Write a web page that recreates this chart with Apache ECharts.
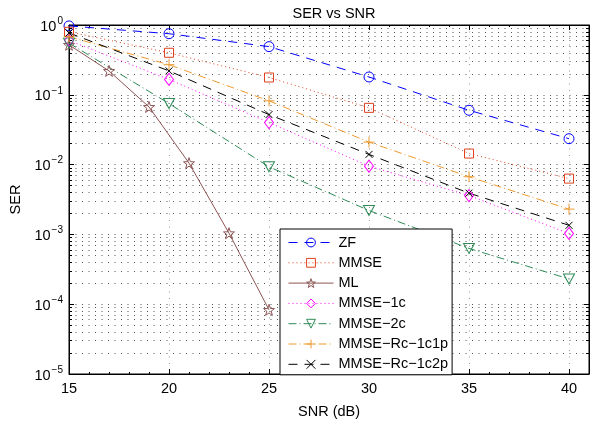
<!DOCTYPE html>
<html>
<head>
<meta charset="utf-8">
<script src="https://cdn.jsdelivr.net/npm/echarts@6/dist/echarts.min.js"></script>
<style>
  html, body { margin: 0; padding: 0; background: #fff; }
  #serChart { width: 601px; height: 424px; }
</style>
</head>
<body>
<div id="serChart"></div>
<script>
// SNR points (dB) and SER readings
var snr = [15, 20, 25, 30, 35, 40]
var mlSnr = [15, 17, 19, 21, 23, 25]
var zf = [0.97, 0.75, 0.49, 0.18, 0.06, 0.0235]
var mmse = [0.8, 0.4, 0.177, 0.065, 0.0144, 0.0063]
var ml = [0.52, 0.22, 0.067, 0.0105, 0.00104, 0.000083]
var mmse1c = [0.6, 0.166, 0.04, 0.0095, 0.0036, 0.00103]
var mmse2c = [0.55, 0.075, 0.0093, 0.0022, 0.00063, 0.00023]
var rc1c1p = [0.68, 0.27, 0.082, 0.021, 0.0067, 0.0023]
var rc1c2p = [0.77, 0.22, 0.052, 0.014, 0.0039, 0.00135]

var FONT = 'Liberation Sans, Arial, sans-serif'
var STAR = 'path://M0,-10L2.35,-3.24L9.51,-3.09L3.8,1.24L5.88,8.09L0,4L-5.88,8.09L-3.8,1.24L-9.51,-3.09L-2.35,-3.24Z'
var PLUS = 'path://M0,-5L0,5M-5,0L5,0'
var CROSS = 'path://M-5,-5L5,5M-5,5L5,-5'

function pairs(xs, ys) {
  var out = []
  for (var i = 0; i < xs.length; i++) out.push([xs[i], ys[i]])
  return out
}

function makeSeries(name, xs, ys, color, dash, symbol, size, rotate) {
  return {
    name: name,
    type: 'line',
    data: pairs(xs, ys),
    symbol: symbol,
    symbolSize: size,
    symbolRotate: rotate || 0,
    lineStyle: { color: color, width: 1, type: dash },
    itemStyle: { color: 'transparent', borderColor: color, borderWidth: 1 },
    emphasis: { disabled: true }
  }
}

function logLabel(v) {
  var e = Math.round(Math.log10(v))
  var s = e < 0 ? '\u2212' + (-e) : String(e)
  return '{b|10}{s|' + s + '}'
}

var chart = echarts.init(document.getElementById('serChart'))

var tickStyle = { inside: true, length: 5, lineStyle: { color: '#000' } }
var minorStyle = { show: true, splitNumber: 9, length: 3, lineStyle: { color: '#000' } }
var xMinor = { show: true, splitNumber: 5, length: 2, lineStyle: { color: '#000' } }

chart.setOption({
  animation: false,
  title: {
    text: 'SER vs SNR',
    left: 329,
    top: 1,
    textAlign: 'center',
    textStyle: { fontFamily: FONT, fontSize: 14.5, fontWeight: 'normal', color: '#000' }
  },
  grid: { left: 69, right: 12, top: 25, bottom: 46, show: true, borderColor: '#000', borderWidth: 1 },
  legend: {
    orient: 'vertical',
    left: 280,
    top: 229,
    padding: [6, 4, 3, 8],
    itemWidth: 45,
    itemHeight: 11,
    itemGap: 5.3,
    backgroundColor: '#fff',
    borderColor: '#000',
    borderWidth: 1,
    lineStyle: { width: 1 },
    itemStyle: { borderWidth: 1 },
    textStyle: { fontFamily: FONT, fontSize: 14.5, color: '#000' }
  },
  xAxis: [{
    type: 'value',
    min: 15,
    max: 41,
    interval: 5,
    name: 'SNR (dB)',
    nameLocation: 'middle',
    nameGap: 30,
    nameTextStyle: { fontFamily: FONT, fontSize: 14.5, color: '#000' },
    axisLine: { lineStyle: { color: '#000' } },
    axisTick: tickStyle,
    minorTick: xMinor,
    axisLabel: { fontFamily: FONT, fontSize: 14.5, color: '#000', margin: 7, showMaxLabel: false },
    splitLine: { show: true, lineStyle: { color: '#999', type: [1, 5.5] } }
  }, {
    type: 'value',
    position: 'top',
    min: 15,
    max: 41,
    interval: 5,
    axisLine: { lineStyle: { color: '#000' } },
    axisTick: tickStyle,
    minorTick: xMinor,
    axisLabel: { show: false },
    splitLine: { show: false }
  }],
  yAxis: [{
    type: 'log',
    logBase: 10,
    min: 1e-5,
    max: 1,
    splitNumber: 5,
    name: 'SER',
    nameLocation: 'middle',
    nameGap: 45,
    nameTextStyle: { fontFamily: FONT, fontSize: 14.5, color: '#000' },
    axisLine: { lineStyle: { color: '#000' } },
    axisTick: tickStyle,
    minorTick: minorStyle,
    axisLabel: {
      margin: 6,
      formatter: logLabel,
      rich: {
        b: { fontFamily: FONT, fontSize: 14.5, color: '#000', verticalAlign: 'bottom' },
        s: { fontFamily: FONT, fontSize: 10, color: '#000', verticalAlign: 'bottom', padding: [0, 0, 8, 1] }
      }
    },
    splitLine: { show: true, lineStyle: { color: '#555', type: [1, 5.5] } },
    minorSplitLine: { show: true, lineStyle: { color: '#555', type: [1, 5.5] } }
  }, {
    type: 'log',
    logBase: 10,
    min: 1e-5,
    max: 1,
    splitNumber: 5,
    position: 'right',
    axisLine: { lineStyle: { color: '#000' } },
    axisTick: tickStyle,
    minorTick: minorStyle,
    axisLabel: { show: false },
    splitLine: { show: false }
  }],
  series: [
    makeSeries('ZF', snr, zf, '#0000ff', [9, 7], 'circle', 10),
    makeSeries('MMSE', snr, mmse, '#e0401c', [1, 3], 'rect', 9),
    makeSeries('ML', mlSnr, ml, '#8c5454', 'solid', STAR, 11),
    makeSeries('MMSE\u22121c', snr, mmse1c, '#ff00ff', [1, 3], 'diamond', [9, 12]),
    makeSeries('MMSE\u22122c', snr, mmse2c, '#2e8b57', [8, 3, 1, 3], 'triangle', [11, 10], 180),
    makeSeries('MMSE\u2212Rc\u22121c1p', snr, rc1c1p, '#ee9a2e', [8, 3, 1, 3], PLUS, 11),
    makeSeries('MMSE\u2212Rc\u22121c2p', snr, rc1c2p, '#000000', [9, 7], CROSS, 7)
  ]
})
</script>
</body>
</html>
